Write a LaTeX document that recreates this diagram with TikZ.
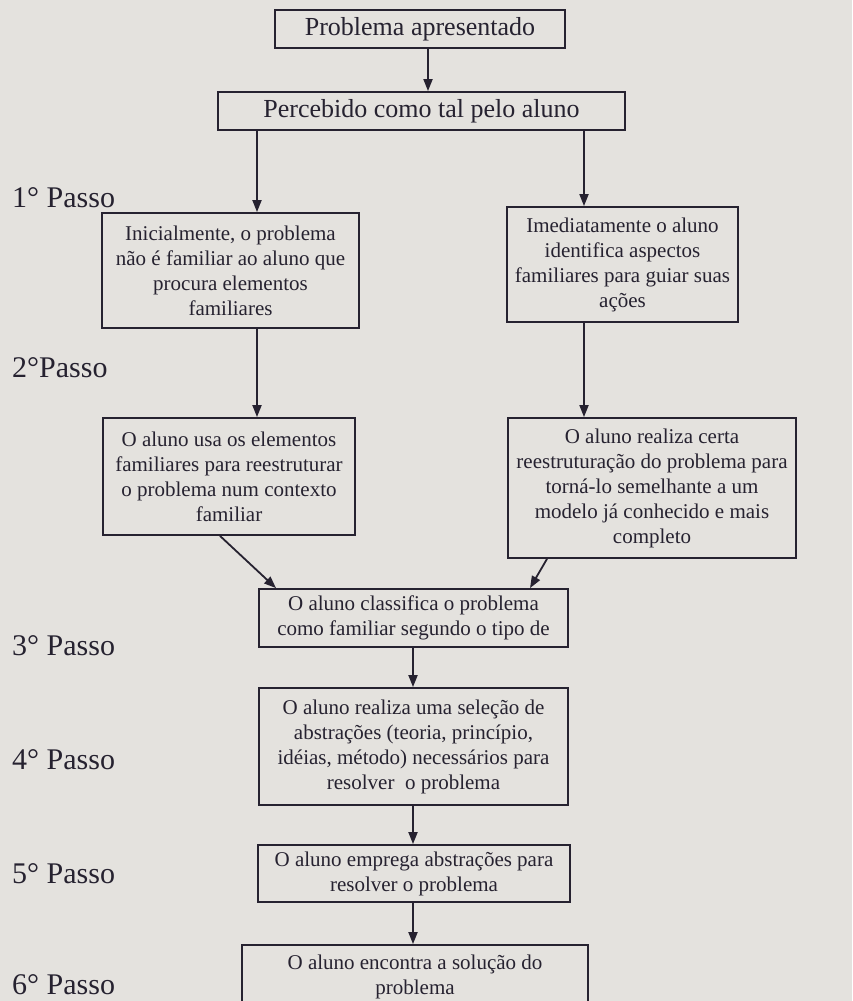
\documentclass[tikz,border=0pt]{standalone}
\usepackage{fontspec}
\setmainfont{Liberation Serif}
\usetikzlibrary{arrows.meta,calc}
\definecolor{paper}{RGB}{228,226,222}
\definecolor{ink}{RGB}{38,34,48}
\tikzset{
  box/.style={draw=ink, line width=1.8pt, rectangle, inner sep=0pt, align=center,
    text=ink, font=\fontsize{21}{25}\selectfont},
  bigbox/.style={box, font=\fontsize{26}{30}\selectfont},
  arr/.style={draw=ink, line width=1.8pt, -{Triangle[length=12pt,width=9pt]}},
  steplabel/.style={anchor=base west, inner sep=0pt, text=ink, font=\fontsize{30}{34}\selectfont}
}
\begin{document}
\begin{tikzpicture}[x=1pt,y=-1pt]
\fill[paper] (0,0) rectangle (852,1001);
\useasboundingbox (0,0) rectangle (852,1001);

% boxes
\node[bigbox, minimum width=290, minimum height=38] (p1) at (420,29) {Problema apresentado};
\node[bigbox, minimum width=407, minimum height=38] (p2) at (421.5,111) {Percebido como tal pelo aluno};
\node[box, minimum width=257, minimum height=115] (a1) at (230.5,270.5)
  {Inicialmente, o problema\\ não é familiar ao aluno que\\ procura elementos\\ familiares};
\node[box, minimum width=231, minimum height=115] (b1) at (622.5,264.5)
  {Imediatamente o aluno\\ identifica aspectos\\ familiares para guiar suas\\ ações};
\node[box, minimum width=252, minimum height=117] (a2) at (229,476.5)
  {O aluno usa os elementos\\ familiares para reestruturar\\ o problema num contexto\\ familiar};
\node[box, minimum width=288, minimum height=140] (b2) at (652,488)
  {O aluno realiza certa\\ reestruturação do problema para\\ torná-lo semelhante a um\\ modelo já conhecido e mais\\ completo};
\node[box, minimum width=309, minimum height=58] (c3) at (413.5,618)
  {O aluno classifica o problema\\ como familiar segundo o tipo de};
\node[box, minimum width=309, minimum height=117] (c4) at (413.5,746.5)
  {O aluno realiza uma seleção de\\ abstrações (teoria, princípio,\\ idéias, método) necessários para\\ resolver\ \ o problema};
\node[box, minimum width=312, minimum height=57] (c5) at (414,873.5)
  {O aluno emprega abstrações para\\ resolver o problema};
\node[box, minimum width=346, minimum height=63] (c6) at (415,976.5)
  {O aluno encontra a solução do\\ problema};

% columns for connectors
\coordinate (xtop) at (428,0);
\coordinate (xl) at (257,0);
\coordinate (xr) at (584,0);
\coordinate (xmid) at (413,0);
\coordinate (dls) at (220,0);
\coordinate (dle) at (276,0);
\coordinate (drs) at (547,0);
\coordinate (dre) at (530,0);

% connectors
\draw[arr] (p1.south -| xtop) -- (p2.north -| xtop);
\draw[arr] (p2.south -| xl) -- (a1.north -| xl);
\draw[arr] (p2.south -| xr) -- (b1.north -| xr);
\draw[arr] (a1.south -| xl) -- (a2.north -| xl);
\draw[arr] (b1.south -| xr) -- (b2.north -| xr);
\draw[arr] (a2.south -| dls) -- (c3.north -| dle);
\draw[arr] (b2.south -| drs) -- (c3.north -| dre);
\draw[arr] (c3.south -| xmid) -- (c4.north -| xmid);
\draw[arr] (c4.south -| xmid) -- (c5.north -| xmid);
\draw[arr] (c5.south -| xmid) -- (c6.north -| xmid);

% step labels
\node[steplabel] (s1) at (12,207) {1° Passo};
\node[steplabel] (s2) at (12,377) {2°Passo};
\node[steplabel] (s3) at (12,655) {3° Passo};
\node[steplabel] (s4) at (12,769) {4° Passo};
\node[steplabel] (s5) at (12,883) {5° Passo};
\node[steplabel] (s6) at (12,994) {6° Passo};
\end{tikzpicture}
\end{document}
